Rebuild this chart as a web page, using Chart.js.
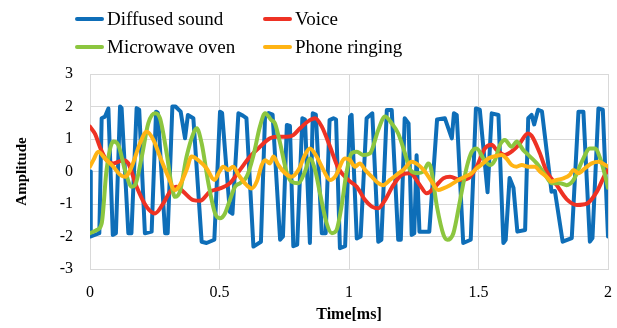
<!DOCTYPE html>
<html>
<head>
<meta charset="utf-8">
<script src="https://cdn.jsdelivr.net/npm/chart.js@4.4.1/dist/chart.umd.min.js"></script>
<style>
  html, body { margin: 0; padding: 0; background: #ffffff; }
  #wrap { position: relative; width: 617px; height: 328px; overflow: hidden; }
  #c { position: absolute; left: 0; top: 0; }
  .lg { position: absolute; height: 24px; display: flex; align-items: center; white-space: nowrap;
        font-family: "Liberation Serif", "DejaVu Serif", serif; font-size: 19px; color: #000; }
  .lg .sw { width: 29px; height: 4px; border-radius: 2px; margin-right: 3px; }
</style>
</head>
<body>
<div id="wrap">
  <canvas id="c" width="617" height="328"></canvas>
  <div id="legend"></div>
</div>
<script>
// ---- Data ----
const seriesNames = ['Diffused sound', 'Voice', 'Microwave oven', 'Phone ringing'];
const seriesColors = ['#0E6EB8', '#EE3224', '#8CC63F', '#FFB414'];

const timeTicks = [0, 0.5, 1, 1.5, 2];
const xTickLabels = ['0', '0.5', '1', '1.5', '2'];
const amplitudeTicks = [-3, -2, -1, 0, 1, 2, 3];
const yTickLabels = ['-3', '-2', '-1', '0', '1', '2', '3'];

const diffusedT = [0,0.003,0.036,0.045,0.058,0.071,0.088,0.1,0.116,0.122,0.148,0.16,0.18,0.19,0.212,0.238,0.255,0.262,0.29,0.3,0.318,0.33,0.35,0.367,0.378,0.399,0.431,0.45,0.48,0.502,0.51,0.54,0.55,0.573,0.59,0.604,0.631,0.66,0.676,0.69,0.705,0.734,0.745,0.76,0.772,0.785,0.8,0.82,0.83,0.849,0.86,0.872,0.895,0.91,0.925,0.94,0.95,0.965,0.985,1.004,1.01,1.03,1.045,1.068,1.09,1.113,1.125,1.146,1.165,1.19,1.2,1.215,1.23,1.242,1.252,1.261,1.272,1.31,1.34,1.37,1.397,1.405,1.416,1.441,1.47,1.49,1.505,1.535,1.551,1.577,1.596,1.605,1.62,1.635,1.65,1.68,1.692,1.705,1.715,1.73,1.745,1.782,1.795,1.825,1.86,1.886,1.905,1.93,1.94,1.963,1.98,2.0];
const diffusedV = [0,-2.0,-1.9,1.64,1.69,1.94,-1.95,-1.9,2.0,1.95,-1.9,-1.9,1.95,1.9,-1.9,-1.85,1.84,1.8,-1.9,-1.9,2.0,2.0,1.84,1.02,1.74,1.64,-2.16,-2.2,-2.1,1.84,1.8,-1.24,-1.3,1.79,1.72,1.64,-2.31,-2.16,1.74,1.8,1.75,-2.1,-2.0,1.43,1.4,-2.3,-2.25,1.64,1.6,-2.2,1.79,1.75,-1.9,-1.9,1.58,1.64,1.6,-2.36,-2.3,1.69,1.74,-2.06,-2.0,1.64,1.79,-2.16,-2.1,1.89,1.89,-2.1,-2.1,1.64,1.48,-1.95,-1.9,0.5,-1.85,-1.85,1.6,1.64,1.02,1.79,1.74,-2.2,-2.1,1.94,1.9,-0.64,1.79,1.74,-2.2,-2.1,-0.2,-0.5,-1.85,-1.8,1.64,1.74,1.45,1.9,1.85,-0.62,-0.6,-2.16,-2.05,1.84,1.84,-2.16,-2.05,1.94,1.9,-2.0];

const voiceT = [0,0.02,0.038,0.064,0.09,0.128,0.148,0.18,0.218,0.251,0.283,0.309,0.335,0.36,0.399,0.425,0.463,0.502,0.54,0.579,0.618,0.656,0.695,0.72,0.76,0.785,0.811,0.849,0.869,0.895,0.927,0.959,0.997,1.03,1.062,1.088,1.113,1.139,1.171,1.204,1.236,1.274,1.3,1.332,1.364,1.39,1.429,1.461,1.493,1.525,1.551,1.57,1.602,1.635,1.66,1.69,1.705,1.737,1.763,1.802,1.84,1.88,1.92,1.957,1.988,2.0];
const voiceV = [1.38,1.15,0.76,0.35,0.25,0.35,0.25,-0.47,-1.08,-1.29,-0.98,-0.62,-0.47,-0.62,-0.88,-0.9,-0.62,-0.52,-0.36,0.05,0.46,0.76,1.02,1.07,1.07,1.12,1.33,1.58,1.64,1.38,0.76,0.1,-0.26,-0.47,-0.88,-1.08,-1.13,-0.88,-0.42,-0.1,-0.05,-0.42,-0.67,-0.47,-0.21,-0.16,-0.26,-0.21,0.15,0.71,0.82,0.66,0.51,0.66,0.87,1.17,1.1,0.56,0,-0.42,-0.85,-1.03,-0.98,-0.62,-0.1,0.05];

const microT = [0,0.026,0.045,0.064,0.09,0.109,0.135,0.161,0.174,0.2,0.225,0.251,0.27,0.296,0.315,0.328,0.347,0.373,0.399,0.412,0.431,0.457,0.483,0.502,0.521,0.54,0.56,0.579,0.605,0.63,0.656,0.676,0.7,0.714,0.734,0.76,0.778,0.805,0.83,0.849,0.869,0.888,0.914,0.934,0.952,0.971,0.99,1.01,1.03,1.055,1.081,1.113,1.139,1.165,1.19,1.216,1.236,1.262,1.288,1.306,1.315,1.34,1.365,1.38,1.403,1.429,1.455,1.474,1.493,1.519,1.544,1.564,1.583,1.602,1.628,1.647,1.673,1.699,1.725,1.757,1.782,1.815,1.84,1.867,1.899,1.93,1.95,1.97,1.988,2.0];
const microV = [-1.9,-1.8,-1.6,0.05,0.92,0.82,0.05,-0.47,-0.42,0.46,1.48,1.79,1.64,0.56,-0.42,-0.78,-0.62,0.46,1.17,1.33,0.87,-0.36,-1.29,-1.44,-1.29,-0.88,-0.47,-0.36,-0.16,0.46,1.38,1.79,1.58,1.48,0.87,-0.05,-0.31,-0.36,0,0.4,0.05,-0.67,-1.6,-1.9,-1.8,-1.08,-0.05,0.56,0.61,0.51,0.56,1.28,1.69,1.48,1.17,0.56,0.05,-0.05,0,0.25,0.15,-1.1,-1.95,-2.1,-1.9,-0.88,0.15,0.61,0.71,0.4,0.2,0.36,0.82,0.97,0.76,0.92,0.66,0.46,0.25,-0.1,-0.36,-0.36,-0.42,-0.26,0.3,0.71,0.71,0.4,-0.1,-0.5];

const phoneT = [0,0.013,0.032,0.058,0.09,0.116,0.135,0.161,0.193,0.219,0.245,0.27,0.302,0.328,0.347,0.373,0.392,0.425,0.45,0.48,0.5,0.514,0.534,0.553,0.573,0.605,0.624,0.644,0.663,0.676,0.695,0.708,0.727,0.753,0.778,0.805,0.83,0.849,0.875,0.901,0.927,0.946,0.985,1.004,1.023,1.042,1.062,1.088,1.113,1.132,1.158,1.184,1.21,1.242,1.268,1.293,1.319,1.345,1.364,1.39,1.422,1.448,1.474,1.493,1.51,1.538,1.557,1.589,1.608,1.628,1.647,1.667,1.692,1.718,1.737,1.763,1.782,1.802,1.828,1.853,1.866,1.886,1.911,1.937,1.963,1.99,2.0];
const phoneV = [0.15,0.35,0.61,0.4,0.15,-0.1,-0.16,0.15,0.87,1.22,0.97,0.46,-0.16,-0.57,-0.42,0.05,0.46,0.3,0.1,-0.26,0,0.15,0.05,0.15,-0.1,-0.42,-0.52,-0.31,0.2,0.35,0.25,0.46,0.2,-0.05,-0.16,0.05,0.51,0.71,0.46,0.05,-0.26,-0.16,0.4,0.35,0.15,0.25,0.05,-0.16,-0.36,-0.42,-0.26,-0.1,0.05,0.3,0.2,0,-0.31,-0.57,-0.52,-0.42,-0.26,-0.16,-0.05,0.1,0.2,0.4,0.46,0.51,0.4,0.2,0.15,0.2,0.15,0.15,0,-0.16,-0.31,-0.26,-0.21,-0.1,0.05,-0.05,0.1,0.25,0.3,0.2,0.15];

function pts(ts, vs) { return ts.map((t, i) => ({ x: t, y: vs[i] })); }

const serif = '"Liberation Serif", "DejaVu Serif", serif';

const datasets = [
  { label: seriesNames[0], data: pts(diffusedT, diffusedV), borderColor: seriesColors[0], tension: 0, order: 4 },
  { label: seriesNames[1], data: pts(voiceT, voiceV), borderColor: seriesColors[1], cubicInterpolationMode: 'monotone', order: 3 },
  { label: seriesNames[2], data: pts(microT, microV), borderColor: seriesColors[2], cubicInterpolationMode: 'monotone', order: 2 },
  { label: seriesNames[3], data: pts(phoneT, phoneV), borderColor: seriesColors[3], cubicInterpolationMode: 'monotone', order: 1 }
].map(d => Object.assign({
  borderWidth: 4, pointRadius: 0, fill: false, borderJoinStyle: 'round', borderCapStyle: 'round'
}, d));

const chart = new Chart(document.getElementById('c'), {
  type: 'line',
  data: { datasets },
  options: {
    responsive: false,
    animation: false,
    devicePixelRatio: 1,
    layout: { padding: { top: 74, right: 9, left: 0, bottom: 0 } },
    plugins: { legend: { display: false }, tooltip: { enabled: false } },
    scales: {
      x: {
        type: 'linear', min: 0, max: 2,
        afterBuildTicks: s => { s.ticks = timeTicks.map(v => ({ value: v })); },
        afterFit: s => { s.height = 59; s.paddingLeft = 0; s.paddingRight = 0; },
        ticks: {
          callback: v => { const i = timeTicks.indexOf(v); return i >= 0 ? xTickLabels[i] : ''; },
          font: { family: serif, size: 16 }, color: '#000', padding: 14, maxRotation: 0, autoSkip: false
        },
        grid: { color: '#d9d9d9', lineWidth: 1, drawTicks: false },
        border: { color: '#d9d9d9' },
        title: { display: true, text: 'Time[ms]', font: { family: serif, size: 16, weight: 'bold' }, color: '#000', padding: { top: 0, bottom: 4 } }
      },
      y: {
        type: 'linear', min: -3, max: 3,
        afterBuildTicks: s => { s.ticks = amplitudeTicks.map(v => ({ value: v })); },
        afterFit: s => { s.width = 90; s.paddingTop = 0; s.paddingBottom = 0; },
        ticks: {
          callback: v => { const i = amplitudeTicks.indexOf(v); return i >= 0 ? yTickLabels[i] : ''; },
          font: { family: serif, size: 16 }, color: '#000', padding: 17
        },
        grid: { color: '#d9d9d9', lineWidth: 1, drawTicks: false },
        border: { color: '#d9d9d9' },
        title: { display: true, text: 'Amplitude', font: { family: serif, size: 15, weight: 'bold' }, color: '#000', padding: { top: 13, bottom: 0 } }
      }
    }
  }
});

// HTML legend built from the chart's datasets (2 x 2 grid)
const legendPos = [[75, 6.5], [263, 6.5], [75, 34.5], [263, 34.5]];
const lg = document.getElementById('legend');
chart.data.datasets.forEach((d, i) => {
  const item = document.createElement('div');
  item.className = 'lg';
  item.style.left = legendPos[i][0] + 'px';
  item.style.top = legendPos[i][1] + 'px';
  const sw = document.createElement('span');
  sw.className = 'sw';
  sw.style.background = d.borderColor;
  const tx = document.createElement('span');
  tx.textContent = d.label;
  item.appendChild(sw);
  item.appendChild(tx);
  lg.appendChild(item);
});
</script>
</body>
</html>
